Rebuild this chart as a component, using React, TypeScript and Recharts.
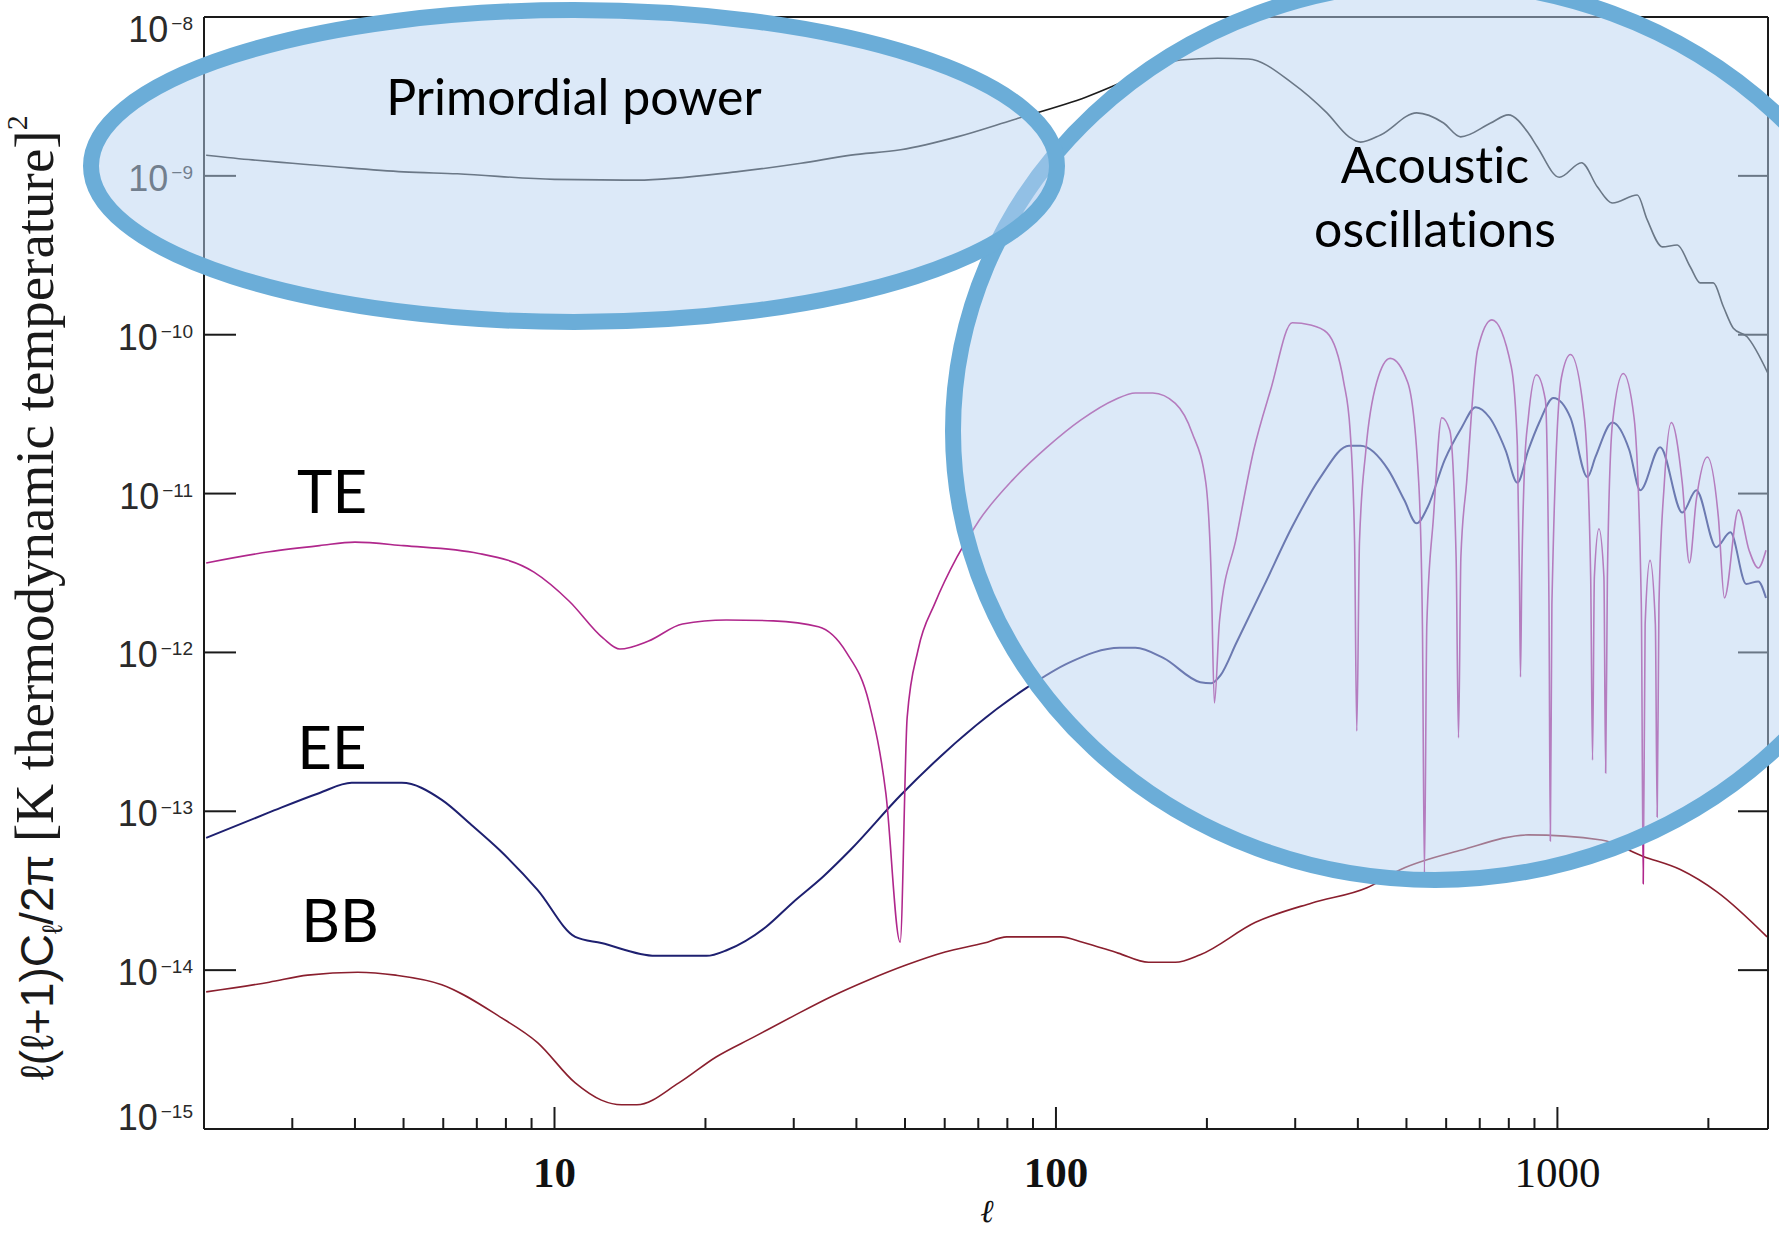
import React from 'react';
import { LineChart, Line, XAxis, YAxis } from 'recharts';

const W = 1779;
const H = 1235;
const INK = '#1a1a1a';

// [multipole l, l(l+1)C_l/2pi]
const tt: [number, number][] = [
  [2.02, 1.35e-9], [2.5, 1.26e-9], [3.0, 1.2e-9], [3.65, 1.14e-9], [5.0, 1.06e-9],
  [6.4, 1.03e-9], [10, 9.5e-10], [14.6, 9.4e-10], [23, 1.06e-9], [31, 1.2e-9],
  [39, 1.35e-9], [49, 1.46e-9], [63.5, 1.76e-9], [82, 2.25e-9], [115, 3.14e-9],
  [144, 4.2e-9], [177, 5.36e-9], [210, 5.5e-9], [242, 5.44e-9], [296, 3.84e-9],
  [347, 2.49e-9], [384, 1.76e-9], [405, 1.63e-9], [444, 1.81e-9], [524, 2.49e-9],
  [593, 2.15e-9], [641, 1.76e-9], [736, 2.15e-9], [798, 2.42e-9], [875, 1.86e-9],
  [912, 1.52e-9], [1009, 9.8e-10], [1117, 1.21e-9], [1202, 8.5e-10], [1288, 6.75e-10],
  [1443, 7.58e-10], [1510, 5.3e-10], [1619, 3.57e-10], [1734, 3.67e-10], [1841, 2.67e-10],
  [1927, 2.12e-10], [2046, 2.12e-10], [2143, 1.5e-10], [2243, 1.1e-10], [2389, 9.7e-11],
  [2630, 5.7e-11],
];

const te: [number, number][] = [
  [2.02, 3.66e-12], [2.7, 4.3e-12], [3.4, 4.7e-12], [4.0, 4.95e-12], [5.0, 4.7e-12],
  [7.06, 4.2e-12], [9.1, 3.2e-12], [10.7, 2.1e-12], [12.5, 1.23e-12], [13.5, 1.05e-12],
  [15.4, 1.18e-12], [18, 1.51e-12], [22, 1.6e-12], [27.3, 1.58e-12], [33.6, 1.45e-12],
  [38.2, 1.0e-12], [42.4, 4.8e-13], [45.8, 1.29e-13], [48.9, 1.5e-14], [50.5, 3.9e-13],
  [53.1, 1.04e-12], [57.4, 2.05e-12], [63.5, 4.0e-12], [70.3, 6.8e-12], [82, 1.22e-11],
  [96, 1.96e-11], [112, 2.9e-11], [131, 3.9e-11], [144, 4.3e-11], [156, 4.3e-11],
  [173, 3.7e-11], [187, 2.4e-11], [199, 1.17e-11], [204, 3.0e-12], [207, 4.8e-13],
  [212, 1.6e-12], [229, 5.3e-12], [248, 1.88e-11], [268, 4.5e-11], [296, 1.19e-10],
  [322, 1.15e-10], [347, 1.03e-10], [375, 5.0e-11], [386, 2.5e-11], [394, 5.0e-12],
  [398, 3.2e-13], [403, 5.0e-12], [415, 1.88e-11], [436, 5.0e-11], [464, 7.1e-11],
  [503, 5.0e-11], [529, 1.17e-11], [538, 1.5e-12], [543, 4.1e-14], [549, 1.5e-12],
  [566, 7.1e-12], [588, 3.0e-11], [610, 2.5e-11], [628, 4.0e-12], [635, 2.9e-13],
  [642, 4.0e-12], [659, 1.17e-11], [693, 8.0e-11], [740, 1.24e-10], [809, 6.3e-11],
  [832, 2.0e-11], [840, 3.0e-12], [844, 7.0e-13], [849, 3.0e-12], [860, 1.5e-11],
  [875, 3.0e-11], [908, 5.6e-11], [946, 3.9e-11], [962, 2.0e-12], [968, 6.5e-14],
  [975, 2.0e-12], [1019, 5.4e-11], [1062, 7.5e-11], [1132, 3.0e-11], [1165, 3.0e-12],
  [1175, 2.1e-13], [1185, 3.0e-12], [1210, 6.0e-12], [1238, 3.0e-12], [1248, 1.74e-13],
  [1258, 3.0e-12], [1288, 2.8e-11], [1353, 5.7e-11], [1422, 3.0e-11], [1470, 2.0e-12],
  [1483, 3.5e-14], [1496, 1.5e-12], [1530, 3.8e-12], [1568, 1.5e-12], [1581, 9.2e-14],
  [1594, 2.0e-12], [1634, 1.17e-11], [1687, 2.8e-11], [1774, 1.17e-11], [1833, 3.66e-12],
  [1892, 9.1e-12], [1990, 1.7e-11], [2094, 7.1e-12], [2153, 2.2e-12], [2296, 7.9e-12],
  [2411, 4.4e-12], [2515, 3.4e-12], [2606, 4.4e-12],
];

const ee: [number, number][] = [
  [2.02, 6.8e-14], [2.69, 9.8e-14], [3.39, 1.3e-13], [3.94, 1.51e-13], [4.96, 1.51e-13],
  [5.96, 1.18e-13], [6.83, 8.2e-14], [7.77, 5.7e-14], [9.25, 3.2e-14], [11.0, 1.62e-14],
  [12.4, 1.48e-14], [15.9, 1.23e-14], [20.1, 1.23e-14], [22.1, 1.34e-14], [26.4, 1.87e-14],
  [29.8, 2.65e-14], [34.4, 3.9e-14], [38.9, 5.7e-14], [49.1, 1.27e-13], [87.5, 6.0e-13],
  [106, 8.6e-13], [134, 1.07e-12], [144, 1.07e-12], [164, 9.2e-13], [194, 6.5e-13],
  [204, 6.4e-13], [213, 7.2e-13], [229, 1.15e-12], [261, 2.7e-12], [296, 6.2e-12],
  [337, 1.27e-11], [384, 2.0e-11], [405, 2.0e-11], [460, 1.41e-11], [495, 9.1e-12],
  [524, 6.5e-12], [551, 8.2e-12], [596, 1.63e-11], [644, 2.6e-11], [687, 3.5e-11],
  [733, 3.0e-11], [788, 1.88e-11], [832, 1.17e-11], [875, 1.88e-11], [920, 2.8e-11],
  [982, 4.0e-11], [1062, 3.0e-11], [1148, 1.27e-11], [1191, 1.7e-11], [1288, 2.8e-11],
  [1391, 1.88e-11], [1463, 1.05e-11], [1603, 1.96e-11], [1774, 7.6e-12], [1892, 1.05e-11],
  [2074, 4.6e-12], [2213, 5.7e-12], [2379, 2.7e-12], [2515, 2.8e-12], [2606, 2.2e-12],
];

const bb: [number, number][] = [
  [2.02, 7.3e-15], [2.7, 8.4e-15], [3.22, 9.3e-15], [4.05, 9.7e-15], [4.82, 9.3e-15],
  [5.96, 8.1e-15], [7.77, 5.1e-15], [9.25, 3.5e-15], [11.0, 1.95e-15], [12.4, 1.52e-15],
  [13.6, 1.42e-15], [14.6, 1.42e-15], [17.7, 1.95e-15], [21.0, 2.84e-15], [25.0, 3.8e-15],
  [29.8, 5.1e-15], [35.6, 6.8e-15], [42.4, 8.7e-15], [50.4, 1.08e-14], [60.1, 1.3e-14],
  [71.9, 1.48e-14], [79.8, 1.62e-14], [102, 1.62e-14], [113, 1.5e-14], [133, 1.28e-14],
  [153, 1.12e-14], [173, 1.12e-14], [194, 1.25e-14], [250, 2.0e-14], [324, 2.65e-14],
  [417, 3.3e-14], [487, 4.3e-14], [644, 5.7e-14], [875, 7.1e-14], [1224, 6.6e-14],
  [1483, 5.2e-14], [1758, 4.3e-14], [2084, 3.1e-14], [2619, 1.62e-14],
];

const xDomain = [2, 2630];
const yDomain = [1e-15, 1e-8];
const xTicks = [
  3, 4, 5, 6, 7, 8, 9, 10, 20, 30, 40, 50, 60, 70, 80, 90, 100,
  200, 300, 400, 500, 600, 700, 800, 900, 1000, 2000,
];
const xLabels = [10, 100, 1000];
const yTicks = [1e-15, 1e-14, 1e-13, 1e-12, 1e-11, 1e-10, 1e-9, 1e-8];

const toRows = (s: [number, number][]) => s.map(([l, v]) => ({ l, v }));

const BottomTick = (props: any) => {
  const { x, y, payload } = props;
  const v = payload.value;
  const major = xLabels.includes(v);
  return (
    <g>
      <line x1={x} x2={x} y1={y} y2={y - (major ? 22 : 11)} stroke={INK} strokeWidth={2} />
      {major && (
        <text
          x={x}
          y={y + 58}
          textAnchor="middle"
          fontFamily="'Liberation Serif', serif"
          fontSize={43}
          fontWeight={v < 1000 ? 700 : 400}
          fill="#111"
        >
          {v}
        </text>
      )}
    </g>
  );
};

const TopTick = (props: any) => {
  const { x, y, payload } = props;
  const major = xLabels.includes(payload.value);
  return <line x1={x} x2={x} y1={y} y2={y + (major ? 24 : 12)} stroke={INK} strokeWidth={2} />;
};

const LeftTick = (props: any) => {
  const { x, y, payload } = props;
  const e = Math.round(Math.log10(payload.value));
  // the end labels are nudged inside the axis range, as in the original plot
  const dy = e === -8 ? 25 : e === -15 ? 1 : 15;
  return (
    <g>
      <line x1={x} x2={x + 32} y1={y} y2={y} stroke={INK} strokeWidth={2} />
      <text x={x - 11} y={y + dy} textAnchor="end" fontFamily="'Liberation Sans', sans-serif" fontSize={36} fill="#2a2a2a">
        10
        <tspan dx={3} dy={-12} fontSize={19}>{'\u2212' + -e}</tspan>
      </text>
    </g>
  );
};

const RightTick = (props: any) => {
  const { x, y } = props;
  return <line x1={x - 30} x2={x} y1={y} y2={y} stroke={INK} strokeWidth={2} />;
};

const axisLine = { stroke: INK, strokeWidth: 2 };
const label = {
  fontFamily: 'Lato, sans-serif',
  fill: '#000',
  style: { fontVariantLigatures: 'none' as const },
};

export default function App() {
  return (
    <div style={{ position: 'absolute', left: 0, top: 0, width: W, height: H, background: '#fff' }}>
      <LineChart width={W} height={H} margin={{ top: 0, right: 0, bottom: 0, left: 0 }}>
        <XAxis
          xAxisId={0}
          dataKey="l"
          type="number"
          scale="log"
          domain={xDomain}
          allowDataOverflow
          ticks={xTicks}
          interval={0}
          tick={BottomTick}
          tickLine={false}
          tickSize={0}
          tickMargin={0}
          axisLine={axisLine}
          height={106}
        />
        <XAxis
          xAxisId="top"
          orientation="top"
          type="number"
          scale="log"
          domain={xDomain}
          allowDataOverflow
          ticks={xTicks}
          interval={0}
          tick={TopTick}
          tickLine={false}
          tickSize={0}
          tickMargin={0}
          axisLine={axisLine}
          height={17}
        />
        <YAxis
          yAxisId={0}
          type="number"
          scale="log"
          domain={yDomain}
          allowDataOverflow
          ticks={yTicks}
          interval={0}
          tick={LeftTick}
          tickLine={false}
          tickSize={0}
          tickMargin={0}
          axisLine={axisLine}
          width={204}
        />
        <YAxis
          yAxisId="right"
          orientation="right"
          type="number"
          scale="log"
          domain={yDomain}
          allowDataOverflow
          ticks={yTicks}
          interval={0}
          tick={RightTick}
          tickLine={false}
          tickSize={0}
          tickMargin={0}
          axisLine={axisLine}
          width={11}
        />
        <Line data={toRows(tt)} dataKey="v" type="monotone" stroke="#1c1c1c" strokeWidth={1.6} dot={false} isAnimationActive={false} />
        <Line data={toRows(bb)} dataKey="v" type="monotone" stroke="#8a1f2e" strokeWidth={1.6} dot={false} isAnimationActive={false} />
        <Line data={toRows(ee)} dataKey="v" type="monotone" stroke="#1e2070" strokeWidth={2} dot={false} isAnimationActive={false} />
        <Line data={toRows(te)} dataKey="v" type="monotone" stroke="#b0278c" strokeWidth={1.6} dot={false} isAnimationActive={false} />
      </LineChart>

      {/* highlight ellipses and annotations on top of the plot */}
      <svg width={W} height={H} style={{ position: 'absolute', left: 0, top: 0, pointerEvents: 'none' }}>
        <ellipse cx={1435} cy={431} rx={482} ry={449} fill="#b9d4f1" fillOpacity={0.5} stroke="#6badd8" strokeWidth={16} />
        <ellipse cx={574} cy={166} rx={483} ry={156} fill="#b9d4f1" fillOpacity={0.5} stroke="#6badd8" strokeWidth={16} />

        <text x={574} y={115} textAnchor="middle" fontSize={50} {...label}>Primordial power</text>
        <text x={1435} y={183} textAnchor="middle" fontSize={50} {...label}>Acoustic</text>
        <text x={1435} y={247} textAnchor="middle" fontSize={50} {...label}>oscillations</text>
        <text x={332} y={513} textAnchor="middle" fontSize={60} {...label}>TE</text>
        <text x={332} y={769} textAnchor="middle" fontSize={60} {...label}>EE</text>
        <text x={340} y={942} textAnchor="middle" fontSize={60} {...label}>BB</text>

        <text x={987} y={1222} textAnchor="middle" fontFamily="'DejaVu Serif', serif" fontStyle="italic" fontSize={32} fill="#111">
          {'\u2113'}
        </text>
        <g transform="translate(53,1080) rotate(-90)">
          <text x={0} y={0} fill="#1a1a1a" fontFamily="'Liberation Serif', serif" fontSize={55}>
            <tspan fontFamily="'Liberation Sans', sans-serif" fontSize={46}>{'\u2113(\u2113+1)C'}</tspan>
            <tspan fontFamily="'Liberation Sans', sans-serif" fontSize={28} dy={9}>{'\u2113'}</tspan>
            <tspan fontFamily="'Liberation Sans', sans-serif" fontSize={46} dy={-9}>{'/2\u03c0 '}</tspan>
            <tspan>[K thermodynamic temperature]</tspan>
            <tspan fontSize={30} dy={-26}>2</tspan>
          </text>
        </g>
      </svg>
    </div>
  );
}
